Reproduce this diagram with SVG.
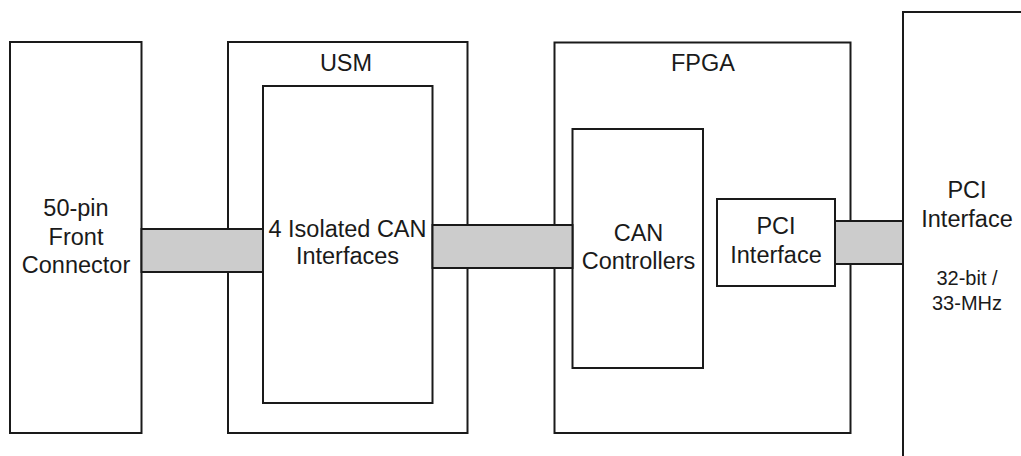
<svg xmlns="http://www.w3.org/2000/svg" width="1021" height="456" viewBox="0 0 1021 456">
  <style>
    .box { fill: #ffffff; stroke: #1a1a1a; stroke-width: 2; }
    .bus { fill: #cccccc; stroke: #1a1a1a; stroke-width: 2; }
    .lbl { font-family: "Liberation Sans", Arial, sans-serif; font-size: 23.5px; fill: #1a1a1a; text-anchor: middle; }
    .sub { font-size: 20px; }
  </style>
  <rect x="0" y="0" width="1021" height="456" fill="#ffffff"/>

  <!-- outer blocks -->
  <g id="front-connector">
    <rect class="box" x="10" y="42" width="131.5" height="391"/>
    <text class="lbl" x="76" y="216">50-pin</text>
    <text class="lbl" x="76" y="244.5">Front</text>
    <text class="lbl" x="76" y="273">Connector</text>
  </g>

  <g id="usm">
    <rect class="box" x="228" y="42" width="239.5" height="391"/>
    <text class="lbl" x="346" y="70.5">USM</text>
  </g>

  <g id="fpga">
    <rect class="box" x="554.5" y="42.5" width="296" height="390.5"/>
    <text class="lbl" x="703" y="70.5">FPGA</text>
  </g>

  <g id="pci-bus">
    <rect class="box" x="903" y="12" width="130" height="460"/>
    <text class="lbl" x="967" y="198">PCI</text>
    <text class="lbl" x="967" y="227">Interface</text>
    <text class="lbl sub" x="967" y="285">32-bit /</text>
    <text class="lbl sub" x="967" y="310">33-MHz</text>
  </g>

  <!-- inner blocks -->
  <g id="can-interfaces">
    <rect class="box" x="263" y="86" width="169.5" height="317"/>
    <text class="lbl" x="347.5" y="236.5">4 Isolated CAN</text>
    <text class="lbl" x="347.5" y="264">Interfaces</text>
  </g>

  <g id="can-controllers">
    <rect class="box" x="572.5" y="129" width="130.5" height="239"/>
    <text class="lbl" x="638.5" y="240.5">CAN</text>
    <text class="lbl" x="638.5" y="269">Controllers</text>
  </g>

  <g id="pci-interface">
    <rect class="box" x="717" y="199" width="118" height="87"/>
    <text class="lbl" x="776" y="234">PCI</text>
    <text class="lbl" x="776" y="263">Interface</text>
  </g>

  <!-- bus connectors -->
  <g id="connectors">
    <rect class="bus" x="141.5" y="229" width="121.5" height="43"/>
    <rect class="bus" x="432.5" y="225" width="140" height="43"/>
    <rect class="bus" x="835" y="221" width="68" height="43"/>
  </g>
</svg>
